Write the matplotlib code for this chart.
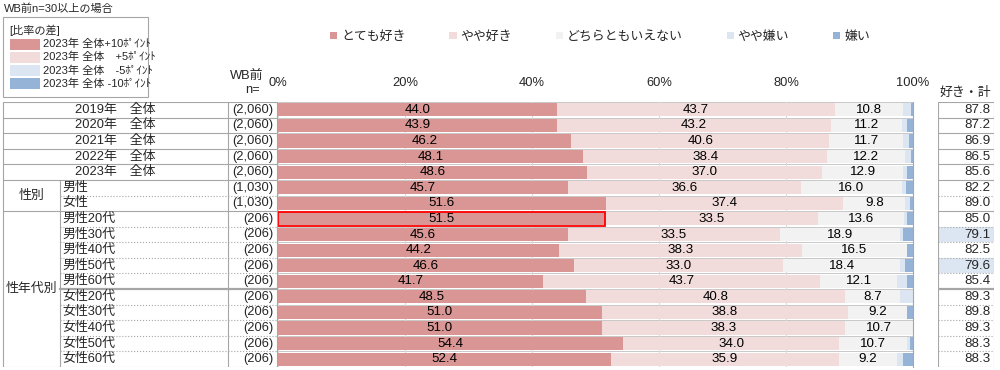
import matplotlib.pyplot as plt
import numpy as np
from matplotlib.patches import Rectangle

plt.rcParams['font.family'] = ['Liberation Sans', 'Noto Sans CJK JP', 'DejaVu Sans']

# --- Daten --- #
rows = ['2019年\u3000全体', '2020年\u3000全体', '2021年\u3000全体', '2022年\u3000全体', '2023年\u3000全体',
        '男性', '女性',
        '男性20代', '男性30代', '男性40代', '男性50代', '男性60代',
        '女性20代', '女性30代', '女性40代', '女性50代', '女性60代']
groups = ['', '', '', '', '', '性別', '性別'] + ['性年代別'] * 10
n_labels = ['(2,060)'] * 5 + ['(1,030)'] * 2 + ['(206)'] * 10

very_like = [44.0, 43.9, 46.2, 48.1, 48.6, 45.7, 51.6, 51.5, 45.6, 44.2, 46.6, 41.7, 48.5, 51.0, 51.0, 54.4, 52.4]
like = [43.7, 43.2, 40.6, 38.4, 37.0, 36.6, 37.4, 33.5, 33.5, 38.3, 33.0, 43.7, 40.8, 38.8, 38.3, 34.0, 35.9]
neutral = [10.8, 11.2, 11.7, 12.2, 12.9, 16.0, 9.8, 13.6, 18.9, 16.5, 18.4, 12.1, 8.7, 9.2, 10.7, 10.7, 9.2]
dislike = [1.2, 0.7, 0.8, 1.0, 0.6, 0.6, 0.8, 0.4, 0.5, 0.1, 0.8, 1.5, 2.0, 0.0, 0.0, 0.5, 1.0]
very_dislike = [0.3, 1.0, 0.7, 0.3, 0.9, 1.1, 0.4, 1.0, 1.5, 0.9, 1.2, 1.0, 0.0, 1.0, 0.0, 0.4, 1.5]
like_total = [87.8, 87.2, 86.9, 86.5, 85.6, 82.2, 89.0, 85.0, 79.1, 82.5, 79.6, 85.4, 89.3, 89.8, 89.3, 88.3, 88.3]

series_names = ['とても好き', 'やや好き', 'どちらともいえない', 'やや嫌い', '嫌い']
series_colors = ['#d99694', '#f2dcdb', '#f2f2f2', '#dce6f2', '#95b3d7']
diff_names = ['2023年 全体+10ﾎﾟｲﾝﾄ', '2023年 全体\u3000+5ﾎﾟｲﾝﾄ', '2023年 全体\u3000-5ﾎﾟｲﾝﾄ', '2023年 全体 -10ﾎﾟｲﾝﾄ']
diff_colors = ['#d99694', '#f2dcdb', '#dce6f2', '#95b3d7']
axis_ticks = [0, 20, 40, 60, 80, 100]
base_row = '2023年\u3000全体'
marked_row = '男性20代'

W, H = 1000, 370
TOP, BOTTOM = 102, 367
n = len(rows)
line_col = '#a6a6a6'
txt_col = '#262626'
FS = 9.3


def style_of_boundary(k):
    # Linienart zwischen Zeile k-1 und k
    if k == 0 or k == n:
        return 3, '-', 0.8
    if groups[k] == '' or groups[k] != groups[k - 1]:
        return 3, '-', 0.8
    if rows[k][:2] != rows[k - 1][:2] and groups[k] == '性年代別':
        return 60, '-', 1.6
    return 60, ':', 0.8


fig = plt.figure(figsize=(W / 100, H / 100), dpi=100)

# Hintergrund-Achse in Pixelkoordinaten
bg = fig.add_axes([0, 0, 1, 1])
bg.set_xlim(0, W)
bg.set_ylim(H, 0)
bg.axis('off')

bg.text(4, 9, 'WB前n=30以上の場合', fontsize=8, color=txt_col, va='center')
bg.add_patch(Rectangle((3, 17), 145, 80, fill=False, edgecolor=line_col, lw=0.8))
bg.text(9, 30, '[比率の差]', fontsize=8, color=txt_col, va='center')
for j, (name, col) in enumerate(zip(diff_names, diff_colors)):
    yc = 44 + j * 13.3
    bg.add_patch(Rectangle((10, yc - 5.5), 30, 11, facecolor=col, edgecolor='none'))
    bg.text(43, yc, name, fontsize=8, color=txt_col, va='center')

bg.text(247, 76, 'WB前', fontsize=FS, color=txt_col, ha='center', va='center')
bg.text(252, 90, 'n=', fontsize=FS, color=txt_col, ha='center', va='center')
bg.text(965, 93, '好き・計', fontsize=FS, color=txt_col, ha='center', va='center')

# Balken
ax = fig.add_axes([278 / W, 1 - BOTTOM / H, 635 / W, (BOTTOM - TOP) / H])
y = np.arange(n)
left = np.zeros(n)
containers = []
for vals, name, col in zip([very_like, like, neutral, dislike, very_dislike], series_names, series_colors):
    vals = np.array(vals)
    c = ax.barh(y, vals, left=left, height=0.84, color=col, label=name, zorder=2)
    containers.append(c)
    left += vals
for c in containers[:3]:
    ax.bar_label(c, fmt='%.1f', label_type='center', fontsize=9.6, color='black')

mi = rows.index(marked_row)
ax.add_patch(Rectangle((0, mi - 0.47), very_like[mi], 0.94, fill=False, edgecolor='red', lw=1.3, zorder=4))

ax.set_xlim(0, 100)
ax.set_ylim(n - 0.5, -0.5)
ax.set_xticks(axis_ticks)
ax.set_xticklabels([f'{t}%' for t in axis_ticks])
ax.xaxis.tick_top()
ax.tick_params(axis='x', length=0, pad=9, labelsize=FS, colors=txt_col)
ax.set_yticks([])
ax.grid(axis='x', color='#d9d9d9', lw=0.8)
ax.set_axisbelow(True)
for k in range(n + 1):
    ax.axhline(k - 0.5, color='#bfbfbf', lw=0.6, zorder=0.5)
for s in ['top', 'left', 'bottom']:
    ax.spines[s].set_visible(False)
ax.spines['right'].set_color(line_col)
ax.spines['right'].set_linewidth(0.8)

fig.legend(handles=containers, loc='center', bbox_to_anchor=(0.6, 1 - 37 / H), ncol=5, frameon=False,
           fontsize=FS, handlelength=0.55, handleheight=0.55, handletextpad=0.3, columnspacing=3.4,
           labelcolor=txt_col)

# Tabelle links
tab = fig.add_axes([0, 1 - BOTTOM / H, 278 / W, (BOTTOM - TOP) / H])
tab.set_xlim(0, 278)
tab.set_ylim(n - 0.5, -0.5)
tab.axis('off')
for k in range(n + 1):
    x0, ls, lw = style_of_boundary(k)
    tab.plot([x0, 277], [k - 0.5, k - 0.5], color=line_col, ls=ls, lw=lw)
tab.plot([3, 3], [-0.5, n - 0.5], color=line_col, lw=0.8)
first_grp = next(i for i, g in enumerate(groups) if g)
tab.plot([60, 60], [first_grp - 0.5, n - 0.5], color=line_col, lw=0.8)
tab.plot([228, 228], [-0.5, n - 0.5], color=line_col, lw=0.8)
tab.plot([277, 277], [-0.5, n - 0.5], color=line_col, lw=0.8)
for i, (lab, g, nl) in enumerate(zip(rows, groups, n_labels)):
    if g == '':
        tab.text(115, i, lab, fontsize=FS, color=txt_col, ha='center', va='center')
    else:
        tab.text(62, i, lab, fontsize=FS, color=txt_col, ha='left', va='center')
    tab.text(273, i, nl, fontsize=FS, color=txt_col, ha='right', va='center')
for g in dict.fromkeys(x for x in groups if x):
    idx = [i for i, x in enumerate(groups) if x == g]
    tab.text(31, np.mean(idx), g, fontsize=FS, color=txt_col, ha='center', va='center')

# Spalte rechts: 好き・計
rc = fig.add_axes([938 / W, 1 - BOTTOM / H, 56 / W, (BOTTOM - TOP) / H])
rc.set_xlim(0, 1)
rc.set_ylim(n - 0.5, -0.5)
rc.axis('off')
base = like_total[rows.index(base_row)]
for i, v in enumerate(like_total):
    d = v - base
    if d >= 10:
        fc = diff_colors[0]
    elif d >= 5:
        fc = diff_colors[1]
    elif d <= -10:
        fc = diff_colors[3]
    elif d <= -5:
        fc = diff_colors[2]
    else:
        fc = 'white'
    rc.add_patch(Rectangle((0, i - 0.5), 1, 1, facecolor=fc, edgecolor='none'))
    rc.text(0.94, i, f'{v:.1f}', fontsize=9.6, color=txt_col, ha='right', va='center')
for k in range(n + 1):
    _, ls, lw = style_of_boundary(k)
    rc.plot([0, 1], [k - 0.5, k - 0.5], color=line_col, ls=ls, lw=lw)
rc.plot([0, 0], [-0.5, n - 0.5], color=line_col, lw=0.8)
rc.plot([1, 1], [-0.5, n - 0.5], color=line_col, lw=0.8)

fig.savefig('out.png', dpi=100)
